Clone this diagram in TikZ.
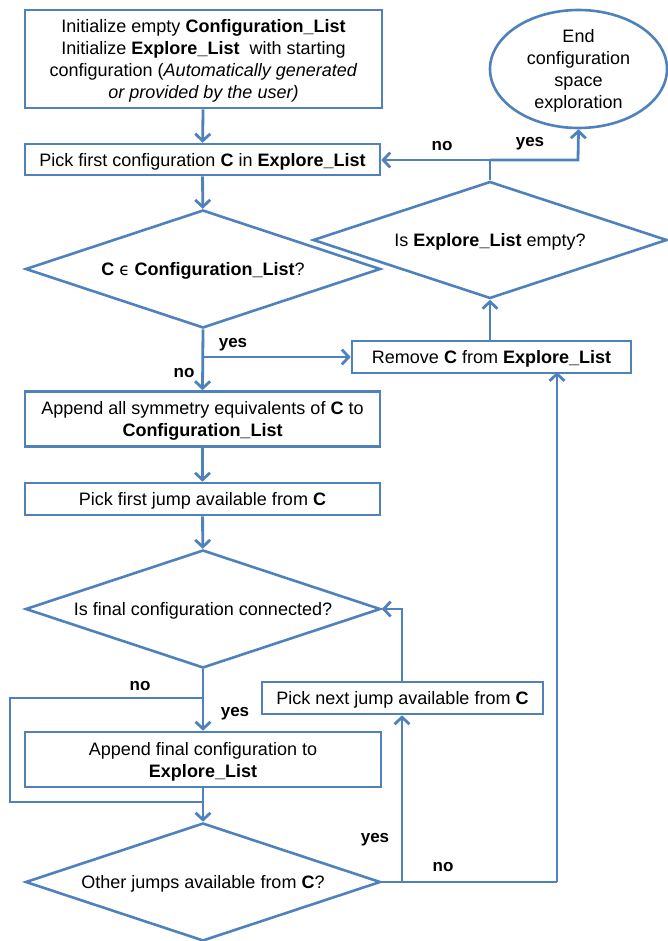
\documentclass[tikz,border=0pt]{standalone}
\usepackage{fontspec}
\setmainfont{Liberation Sans}
\newfontfamily\dejavu{DejaVu Sans}
\usetikzlibrary{shapes.geometric,arrows.meta}
\definecolor{flow}{HTML}{4F81BD}
\tikzset{
  box/.style={draw=flow, line width=2.6pt, fill=white, inner sep=0pt, align=center,
     text depth=0pt, font=\fontsize{18}{22}\selectfont},
  dia/.style={draw=flow, line width=2.6pt, shape=diamond, aspect=3, inner sep=0pt,
     minimum width=355pt, minimum height=118pt, align=center, text depth=0pt,
     font=\fontsize{18}{22}\selectfont},
  endnode/.style={draw=flow, line width=2.6pt, shape=ellipse, inner sep=0pt, align=center,
     minimum width=177pt, minimum height=118pt, text depth=0pt, font=\fontsize{18}{22}\selectfont},
  lbl/.style={font=\fontsize{17}{20}\selectfont\bfseries, inner sep=0pt},
  conn/.style={draw=flow, line width=2.8pt},
  arr/.style={conn, -{Straight Barb[length=7pt,width=15pt,line width=2.8pt]}},
}
\begin{document}
\begin{tikzpicture}[x=1pt,y=-1pt]
\useasboundingbox (0,0) rectangle (668,941);
% nodes
\node[box, minimum width=357pt, minimum height=98pt] (b1) at (203.5,59)
  {Initialize empty \textbf{Configuration\_List}\\
   Initialize \textbf{Explore\_List}\ \ with starting\\
   configuration (\textit{Automatically generated}\\
   \textit{or provided by the user)}};
\node[box, minimum width=355pt, minimum height=31pt] (b2) at (202.5,159.5)
  {Pick first configuration \textbf{C} in \textbf{Explore\_List}};
\node[dia] (d1) at (203,269)
  {\textbf{C} {\dejavu\fontsize{17}{20}\selectfont ϵ} \textbf{Configuration\_List}?};
\node[box, minimum width=355pt, minimum height=55pt] (b3) at (202.5,419)
  {Append all symmetry equivalents of \textbf{C} to\\ \textbf{Configuration\_List}};
\node[box, minimum width=355pt, minimum height=32pt] (b4) at (202.5,499)
  {Pick first jump available from \textbf{C}};
\node[dia] (d2) at (203,609) {Is final configuration connected?};
\node[box, minimum width=356pt, minimum height=55pt] (b5) at (203,759.5)
  {Append final configuration to\\ \textbf{Explore\_List}};
\node[dia] (d3) at (203,882) {Other jumps available from \textbf{C}?};
\node[box, minimum width=281pt, minimum height=32pt] (pn) at (402.5,698)
  {Pick next jump available from \textbf{C}};
\node[box, minimum width=279pt, minimum height=32pt] (rm) at (491.5,357)
  {Remove \textbf{C} from \textbf{Explore\_List}};
\node[dia, minimum width=354pt, minimum height=117pt] (d4) at (490,240)
  {Is \textbf{Explore\_List} empty?};
\node[endnode] (end) at (578.5,69) {End\\configuration\\space\\exploration};
% junction coordinates
\coordinate (j1) at (203,357);
\coordinate (j2) at (203,698);
\coordinate (l1) at (10,698);
\coordinate (l2) at (10,802);
\coordinate (j3) at (203,802);
\coordinate (j4) at (402,882);
\coordinate (r1) at (557,882);
\coordinate (r2) at (557,372);
\coordinate (t1) at (490,160);
\coordinate (t2) at (578,160);
% connectors
\draw[arr] (b1) -- (b2);
\draw[arr] (b2) -- (d1);
\draw[arr] (d1.south) -- (b3.north);
\draw[arr] (j1) -- (rm.west);
\draw[arr] (b3) -- (b4);
\draw[arr] (b4) -- (d2);
\draw[arr] (d2.south) -- (b5.north);
\draw[conn] (j2) -- (l1) -- (l2) -- (j3);
\draw[arr] (b5.south) -- (d3.north);
\draw[conn] (d3.east) -- (r1);
\draw[arr] (r1) -- (r2);
\draw[arr] (j4) -- (j4 |- pn.south);
\draw[arr] (pn.north -| j4) |- (d2.east);
\draw[arr] (rm.north -| d4.south) -- (d4.south);
\draw[conn] (d4.north) -- (t1);
\draw[arr] (t1) -- (t1 -| b2.east);
\draw[arr] (t1) -- (t2) -- (end.south);
% labels
\node[lbl] (ln1) at (442,146) {no};
\node[lbl] (ly1) at (530,144) {yes};
\node[lbl] (ly2) at (233,345) {yes};
\node[lbl] (ln2) at (184,373) {no};
\node[lbl] (ln3) at (140,686) {no};
\node[lbl] (ly3) at (235,714) {yes};
\node[lbl] (ly4) at (375,840) {yes};
\node[lbl] (ln4) at (443,867) {no};
\end{tikzpicture}
\end{document}
